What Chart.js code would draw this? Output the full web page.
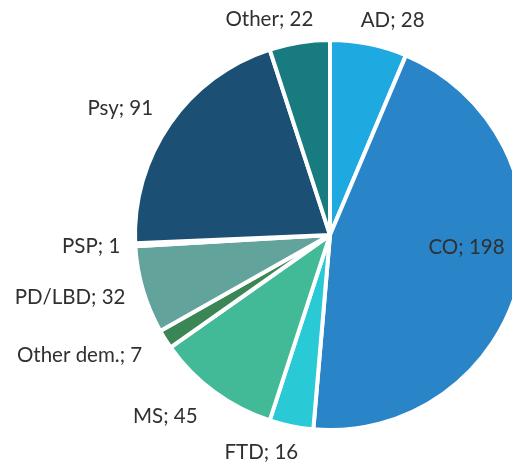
<!DOCTYPE html>
<html>
<head>
<meta charset="utf-8">
<script src="https://cdn.jsdelivr.net/npm/chart.js@4"></script>
<style>
  html, body { margin: 0; padding: 0; background: #fff; }
  #wrap { width: 512px; height: 468px; position: relative; }
</style>
</head>
<body>
<div id="wrap"><canvas id="pieChart" width="512" height="468"></canvas></div>
<script>
const categories = ['AD', 'CO', 'FTD', 'MS', 'Other dem.', 'PD/LBD', 'PSP', 'Psy', 'Other'];
const counts = [28, 198, 16, 45, 7, 32, 1, 91, 22];
const sliceColors = ['#1FA9E1', '#2A84C8', '#29CAD5', '#43BA97', '#3A8755', '#62A39C', '#5A9FA8', '#1B4F74', '#177B80'];

// label tweaks (px) on top of the outside-end placement
const labelNudge = [[16, -8], [0, 0], [-21, 11], [-25, 12], [-26, 8], [-12, 3], [-7, 1], [-16, -6], [-22, -7]];

const pieLabels = {
  id: 'pieLabels',
  afterDatasetsDraw(chart) {
    const ctx = chart.ctx;
    const meta = chart.getDatasetMeta(0);
    ctx.save();
    ctx.font = '20.5px Lato, "Open Sans", sans-serif';
    ctx.fillStyle = '#303030';
    ctx.textAlign = 'center';
    ctx.textBaseline = 'middle';
    meta.data.forEach((arc, i) => {
      const p = arc.getProps(['x', 'y', 'startAngle', 'endAngle', 'outerRadius'], true);
      const mid = (p.startAngle + p.endAngle) / 2;
      const txt = categories[i] + '; ' + counts[i];
      const w = ctx.measureText(txt).width;
      let lx, ly;
      if (i === 1) {
        // big slice gets its label inside
        lx = p.x + Math.cos(mid) * p.outerRadius * 0.7 + 4;
        ly = p.y + Math.sin(mid) * p.outerRadius * 0.7 - 20;
      } else {
        const r = p.outerRadius + 8;
        lx = p.x + Math.cos(mid) * (r + w / 2);
        ly = p.y + Math.sin(mid) * r + Math.sin(mid) * 8;
        lx += labelNudge[i][0];
        ly += labelNudge[i][1];
      }
      ctx.fillText(txt, lx, ly);
    });
    ctx.restore();
  }
};

new Chart(document.getElementById('pieChart'), {
  type: 'pie',
  data: {
    labels: categories,
    datasets: [{
      data: counts,
      backgroundColor: sliceColors,
      borderColor: '#ffffff',
      borderWidth: 4
    }]
  },
  options: {
    responsive: false,
    animation: false,
    radius: 195,
    layout: { padding: { left: 148, right: 0, top: 42, bottom: 40 } },
    plugins: {
      legend: { display: false },
      tooltip: { enabled: false }
    }
  },
  plugins: [pieLabels]
});
</script>
</body>
</html>
